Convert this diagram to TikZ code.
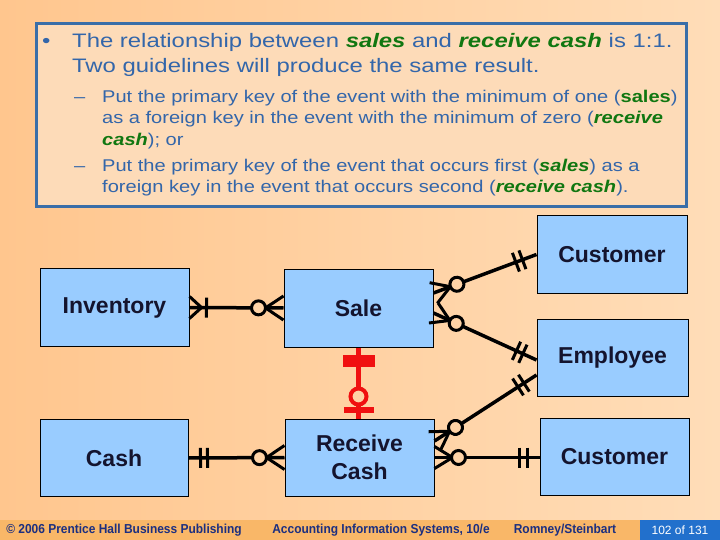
\documentclass[tikz,border=0pt]{standalone}
\usepackage{fontspec}
\setmainfont{Liberation Sans}
\newfontfamily\widefont[FakeStretch=1.225]{Liberation Sans}
\newfontfamily\subfont[FakeStretch=1.18]{Liberation Sans}
\newfontfamily\narrowfont[FakeStretch=0.92]{Liberation Sans}
\usetikzlibrary{calc,decorations.markings}
\definecolor{bgleft}{HTML}{FFC68E}
\definecolor{bgright}{HTML}{FFDDB8}
\definecolor{boxfill}{HTML}{FDDBB8}
\definecolor{boxline}{HTML}{3A6EA8}
\definecolor{titleblue}{HTML}{3366AA}
\definecolor{keygreen}{HTML}{117711}
\definecolor{entfill}{HTML}{99CCFF}
\definecolor{entink}{HTML}{14142E}
\definecolor{ringfill}{HTML}{FFD3A6}
\definecolor{footband}{HTML}{F9B768}
\definecolor{footblue}{HTML}{2270CC}
\definecolor{footink}{HTML}{1C2F80}
\definecolor{relred}{HTML}{F01010}
\newcommand{\keyit}[1]{\textcolor{keygreen}{\textbf{\textit{#1}}}}
\newcommand{\keybf}[1]{\textcolor{keygreen}{\textbf{#1}}}
\tikzset{
  entity/.style={draw=black, line width=1pt, fill=entfill, text=entink, align=center,
    inner sep=0pt, font=\fontsize{23}{28}\selectfont\bfseries},
  titletext/.style={anchor=base west, inner sep=0pt, text=titleblue,
    font=\widefont\fontsize{19.5}{24}\selectfont},
  subtext/.style={anchor=base west, inner sep=0pt, text=titleblue,
    font=\subfont\fontsize{17}{21}\selectfont},
  foot/.style={inner sep=0pt, text=footink, font=\narrowfont\bfseries\fontsize{13}{15}\selectfont},
  rel/.style={line width=3.5pt},
  tick/.style={line width=3pt},
  crowA/.style={postaction={decorate,decoration={markings,
    mark=at position #1 with {\draw[tick] (-#1,11pt) -- (0pt,0pt) -- (-#1,-11pt);}}}},
  crowB/.style={postaction={decorate,decoration={markings,
    mark=at position -#1 with {\draw[tick] (#1,12pt) -- (0pt,0pt) -- (#1,-12pt);}}}},
  ring/.style={postaction={decorate,decoration={markings,
    mark=at position #1 with {\draw[tick,fill=ringfill] (0pt,0pt) circle (7pt);}}}},
  bar/.style={postaction={decorate,decoration={markings,
    mark=at position #1 with {\draw[tick] (0pt,10pt) -- (0pt,-10pt);}}}},
}
\begin{document}
\begin{tikzpicture}[x=1pt,y=-1pt]
  \useasboundingbox (0,0) rectangle (720,540);
  \shade[left color=bgleft,right color=bgright] (0,0) rectangle (720,540);

  % guideline box
  \draw[boxline,line width=3pt,fill=boxfill] (36,24) rectangle (686,207);
  \node[titletext] (dot) at (42,48) {•};
  \node[titletext] (line1) at (72,48) {The relationship between \keyit{sales} and \keyit{receive cash} is 1:1.};
  \node[titletext] (line2) at (72,73) {Two guidelines will produce the same result.};
  \node[subtext] (dasha) at (74,103) {–};
  \node[subtext] (suba1) at (102,103) {Put the primary key of the event with the minimum of one (\keybf{sales})};
  \node[subtext] (suba2) at (102,124) {as a foreign key in the event with the minimum of zero (\keyit{receive}};
  \node[subtext] (suba3) at (102,146) {\keyit{cash}); or};
  \node[subtext] (dashb) at (74,172) {–};
  \node[subtext] (subb1) at (102,172) {Put the primary key of the event that occurs first (\keyit{sales}) as a};
  \node[subtext] (subb2) at (102,193) {foreign key in the event that occurs second (\keyit{receive cash}).};

  % entities
  \node[entity,minimum width=149pt,minimum height=78pt] (inv) at (114.5,307.5) {Inventory};
  \node[entity,minimum width=148pt,minimum height=77pt] (cash) at (114,458) {Cash};
  \node[entity,minimum width=149pt,minimum height=78pt] (sale) at (358.5,308) {Sale};
  \node[entity,minimum width=149pt,minimum height=77pt] (rcash) at (359.5,457.5) {Receive\\Cash};
  \node[entity,minimum width=150pt,minimum height=77pt] (cust1) at (612,254.5) {Customer};
  \node[entity,minimum width=151pt,minimum height=77pt] (emp) at (612.5,357.5) {Employee};
  \node[entity,minimum width=149pt,minimum height=77pt] (cust2) at (614.5,456.5) {Customer};

  % relationships
  \draw[rel,crowA=12pt,bar=17pt,crowB=18pt,ring=-25pt] (inv.east) -- (sale.west);
  \draw[rel,crowA=18pt,ring=25pt,bar=-22pt,bar=-15pt] ([yshift=15pt]sale.east) -- (cust1.west);
  \draw[rel,crowA=18pt,ring=25pt,bar=-22pt,bar=-15pt] ([yshift=-5pt]sale.east) -- ([yshift=-2.5pt]emp.west);
  \draw[rel,bar=12pt,bar=19pt,crowB=18pt,ring=-25pt] (cash.east) -- (rcash.west);
  \draw[rel,crowA=18pt,ring=25pt,bar=-22pt,bar=-15pt] ([yshift=16.5pt]rcash.east) -- ([yshift=-17.5pt]emp.west);
  \draw[rel,crowA=18pt,ring=24pt,bar=-20pt,bar=-12pt] (rcash.east) -- (rcash.east -| cust2.west);
  \draw[relred,line width=4.5pt,
    postaction={decorate,decoration={markings,
      mark=at position 13pt with {\fill[relred] (-6pt,-16pt) rectangle (6pt,16pt);}}},
    postaction={decorate,decoration={markings,
      mark=at position -22pt with {\draw[relred,line width=4pt,fill=ringfill] (0pt,0pt) circle (8pt);}}},
    postaction={decorate,decoration={markings,
      mark=at position -9pt with {\draw[relred,line width=6pt] (0pt,15pt) -- (0pt,-15pt);}}}]
    (sale.south) -- (sale.south |- rcash.north);

  % footer
  \fill[footband] (0,520) rectangle (720,540);
  \fill[footblue] (640,520) rectangle (720,540);
  \node[foot] (pub) at (124,530) {© 2006 Prentice Hall Business Publishing};
  \node[foot] (book) at (381,530) {Accounting Information Systems, 10/e};
  \node[foot] (auth) at (565,530) {Romney/Steinbart};
  \node[inner sep=0pt,text=white,font=\fontsize{12}{14}\selectfont] (page) at (680,530) {102 of 131};
\end{tikzpicture}
\end{document}
